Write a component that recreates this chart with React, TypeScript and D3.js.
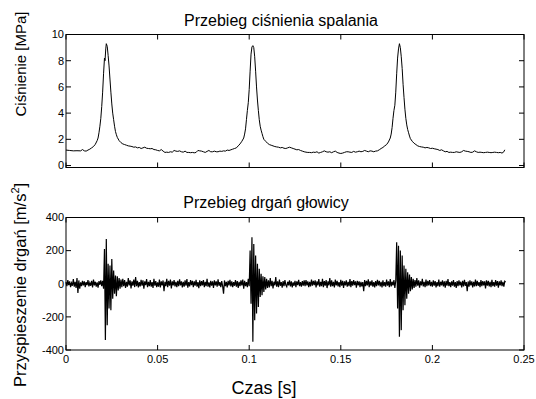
import React from "react";
import * as d3 from "d3";

const W = 536;
const H = 399;

const pressureTicks = [0, 2, 4, 6, 8, 10];
const vibTicks = [-400, -200, 0, 200, 400];
const timeTicks = [0, 0.05, 0.1, 0.15, 0.2, 0.25];
const timeTickLabels = ["0", "0.05", "0.1", "0.15", "0.2", "0.25"];

// [time s, pressure MPa]
const pressureData: [number, number][] = [
  [0,1.18],[0.002,1.15],[0.004,1.12],[0.006,1.13],[0.008,1.12],[0.009,1.22],[0.010,1.12],[0.011,1.1],[0.012,1.18],[0.013,1.25],[0.014,1.35],[0.015,1.45],[0.016,1.62],[0.017,1.9],[0.0175,2.1],[0.018,2.5],[0.0185,3.0],[0.019,3.6],[0.0195,4.5],[0.020,5.6],[0.0205,7.0],[0.021,8.2],[0.0213,8.0],[0.0217,8.9],[0.022,9.3],[0.0225,9.1],[0.023,8.4],[0.0235,7.6],[0.024,6.6],[0.0245,5.6],[0.025,4.7],[0.0255,4.0],[0.026,3.5],[0.0265,3.0],[0.027,2.6],[0.0275,2.35],[0.028,2.15],[0.029,1.9],[0.030,1.75],[0.031,1.65],[0.032,1.6],[0.033,1.55],[0.034,1.5],[0.035,1.48],[0.036,1.45],[0.037,1.4],[0.038,1.42],[0.039,1.35],[0.040,1.38],[0.041,1.3],[0.042,1.35],[0.043,1.4],[0.044,1.32],[0.045,1.3],[0.046,1.28],[0.047,1.3],[0.048,1.22],[0.049,1.2],[0.050,1.15],[0.051,1.12],[0.052,1.22],[0.053,1.1],[0.054,1.0],[0.055,1.02],[0.056,1.0],[0.057,1.05],[0.058,1.02],[0.059,1.15],[0.060,1.1],[0.061,1.08],[0.062,1.12],[0.063,1.05],[0.064,1.02],[0.065,1.1],[0.066,1.0],[0.067,1.0],[0.068,0.98],[0.069,1.0],[0.070,0.97],[0.071,1.0],[0.072,1.15],[0.073,1.12],[0.074,1.1],[0.075,1.05],[0.076,1.0],[0.077,1.08],[0.078,1.15],[0.079,1.05],[0.080,1.05],
  [0.081,1.1],[0.082,1.05],[0.083,1.05],[0.084,1.1],[0.085,1.08],[0.086,1.12],[0.087,1.1],[0.088,1.18],[0.089,1.15],[0.090,1.2],[0.091,1.25],[0.092,1.3],[0.093,1.35],[0.094,1.5],[0.095,1.65],[0.096,1.85],[0.097,2.1],[0.0975,2.4],[0.098,2.8],[0.0985,3.5],[0.099,4.2],[0.0995,4.8],[0.100,5.8],[0.1005,7.2],[0.101,8.5],[0.1015,9.05],[0.102,9.15],[0.1025,9.0],[0.103,8.3],[0.1035,7.2],[0.104,6.0],[0.1045,5.0],[0.105,4.2],[0.1055,3.5],[0.106,3.0],[0.1065,2.7],[0.107,2.45],[0.1075,2.2],[0.108,2.0],[0.109,1.85],[0.110,1.7],[0.111,1.6],[0.112,1.55],[0.113,1.5],[0.114,1.45],[0.115,1.42],[0.116,1.4],[0.117,1.35],[0.118,1.38],[0.119,1.32],[0.120,1.3],[0.121,1.35],[0.122,1.4],[0.123,1.35],[0.124,1.3],[0.125,1.25],[0.126,1.2],[0.127,1.22],[0.128,1.15],[0.129,1.1],[0.130,1.05],[0.131,1.02],[0.132,1.0],[0.133,1.0],[0.134,0.98],[0.135,1.02],[0.136,1.0],[0.137,1.05],[0.138,0.95],[0.139,1.0],[0.140,1.05],[0.141,1.12],[0.142,1.05],[0.143,1.02],[0.144,1.05],[0.145,0.98],[0.146,1.05],[0.147,1.1],[0.148,1.0],[0.149,0.95],[0.150,0.92],[0.151,0.95],[0.152,1.0],[0.153,1.05],[0.154,1.05],[0.155,1.02],[0.156,1.0],[0.157,1.08],[0.158,1.02],[0.159,1.05],[0.160,1.1],
  [0.161,1.05],[0.162,1.08],[0.163,1.15],[0.164,1.1],[0.165,1.05],[0.166,1.12],[0.167,1.1],[0.168,1.05],[0.169,1.1],[0.170,1.12],[0.171,1.2],[0.172,1.3],[0.173,1.38],[0.174,1.5],[0.175,1.6],[0.176,1.8],[0.177,2.1],[0.1775,2.4],[0.178,2.9],[0.1785,3.6],[0.179,4.2],[0.1795,4.6],[0.180,5.6],[0.1805,7.0],[0.181,8.2],[0.1815,8.9],[0.182,9.3],[0.1825,9.0],[0.183,8.3],[0.1835,7.4],[0.184,6.2],[0.1845,5.2],[0.185,4.3],[0.1855,3.6],[0.186,3.1],[0.1865,2.75],[0.187,2.5],[0.1875,2.25],[0.188,2.05],[0.189,1.85],[0.190,1.7],[0.191,1.6],[0.192,1.5],[0.193,1.45],[0.194,1.42],[0.195,1.4],[0.196,1.35],[0.197,1.38],[0.198,1.35],[0.199,1.3],[0.200,1.32],[0.201,1.28],[0.202,1.25],[0.203,1.22],[0.204,1.15],[0.205,1.2],[0.206,1.12],[0.207,1.05],[0.208,1.08],[0.209,1.0],[0.210,1.02],[0.211,1.0],[0.212,1.0],[0.213,1.05],[0.214,1.02],[0.215,1.0],[0.216,1.05],[0.217,1.15],[0.218,1.1],[0.219,1.08],[0.220,1.05],[0.221,1.0],[0.222,1.02],[0.223,1.12],[0.224,1.05],[0.225,1.0],[0.226,1.02],[0.227,1.0],[0.228,0.98],[0.229,1.0],[0.230,1.02],[0.231,1.0],[0.232,0.98],[0.233,1.0],[0.234,1.02],[0.235,1.0],[0.236,0.98],[0.237,1.0],[0.238,0.95],[0.239,1.05],[0.2395,1.2]
];

// vibration acceleration [m/s^2], one sample every 0.5 ms from t = 0
const vibStep = 0.0005;
const vibValues: number[] = [
  10,-15,22,-8,15,-20,5,-12,28,-18,12,-25,35,-55,20,-30,8,-14,18,-10,
  14,-20,10,-8,22,-16,6,-12,18,-22,25,-10,12,-18,8,-24,16,-6,20,-14,
  18,-30,210,-340,270,-250,120,-150,110,-160,150,-90,80,-60,50,-75,45,-40,35,-30,25,
  -20,30,-15,22,-25,12,-18,35,-10,20,-28,15,-12,25,-20,40,-15,18,-22,10,
  -16,24,-12,20,-30,15,-8,28,-20,12,-14,22,-18,10,-25,30,-12,16,-20,8,
  -18,25,-22,14,-10,20,-45,12,-15,30,-20,18,-12,25,-28,15,-10,22,-16,12,
  -20,18,-14,26,-10,15,-22,12,-18,20,-12,28,-24,10,-16,22,-8,18,-20,14,
  -12,24,-18,10,-26,20,-14,16,-10,22,-20,12,-15,30,-18,8,-22,18,-12,15,
  -25,20,-10,14,-18,26,-12,10,-20,16,-14,-60,20,-15,12,-22,18,-10,24,-16,
  14,-20,10,-12,22,-18,16,-25,12,-15,20,-10,25,-30,18,-14,10,-20,30,-15,
  200,-120,280,-350,240,-220,170,-180,120,-140,90,-80,60,-70,45,-50,40,-35,30,-25,
  20,-22,35,-15,18,-28,12,-10,40,-18,15,-20,25,-12,10,-24,16,-14,22,-8,
  -18,12,-10,20,-16,14,-22,8,-12,18,-20,15,-8,24,-14,10,-18,16,-12,20,
  -15,22,-10,14,-20,12,-16,25,-12,18,-8,20,-22,15,-10,28,-18,12,-14,30,
  -20,16,-12,22,-26,14,-10,35,-18,20,-15,12,-22,25,-10,18,-16,10,-20,24,
  -12,18,-25,14,-10,20,-18,12,-15,28,-20,16,-12,22,-8,15,-24,18,-10,14,
  -20,12,-16,10,-45,22,-14,18,-10,26,-20,15,-12,20,-18,10,-22,16,-14,24,
  -10,18,-16,12,-22,20,-14,10,-18,25,-12,15,-20,28,-16,12,-10,22,-25,18,
  250,-150,230,-320,200,-280,170,-160,110,-130,90,-90,70,-60,55,-45,40,-35,30,-25,
  22,-18,35,-12,20,-24,15,-10,30,-16,12,-20,25,-14,18,-10,22,-15,12,-18,
  20,-12,16,-22,10,-14,25,-18,12,-10,20,-16,14,-24,18,-12,28,-15,10,-20,
  15,-12,22,-18,10,-25,16,-14,20,-10,12,-22,18,-16,24,-12,10,-45,14,-18,
  20,-10,15,-22,12,-16,25,-14,18,-12,10,-20,22,-15,16,-10,14,-28,20,-12,
  18,-16,12,-20,24,-14,10,-18,22,-12,16,-24,14,-10,20,-15,12,-18,15,10
];

const FONT = "'Liberation Sans', Arial, Helvetica, sans-serif";

const X0 = 66;
const X1 = 524;
const TOP = { y0: 34.5, y1: 167.5 };
const BOT = { y0: 217.5, y1: 350 };
const TICK = 5;

export default function App() {
  const x = d3.scaleLinear().domain([0, 0.25]).range([X0, X1]);
  const yP = d3.scaleLinear().domain([-0.15, 10]).range([TOP.y1, TOP.y0]);
  const yV = d3.scaleLinear().domain([-400, 400]).range([BOT.y1, BOT.y0]);

  const pLine = d3
    .line<[number, number]>()
    .x((d) => x(d[0]))
    .y((d) => yP(d[1]))(pressureData) as string;

  const vLine = d3
    .line<number>()
    .x((_, i) => x(i * vibStep))
    .y((d) => yV(d))(vibValues) as string;

  const frame = (y0: number, y1: number) => (
    <rect x={X0} y={y0} width={X1 - X0} height={y1 - y0} fill="none" stroke="#000" strokeWidth={1} />
  );

  const xTicks = (y0: number, y1: number) =>
    timeTicks.map((t, i) => (
      <g key={"xt" + i}>
        <line x1={x(t)} x2={x(t)} y1={y1} y2={y1 - TICK} stroke="#000" />
        <line x1={x(t)} x2={x(t)} y1={y0} y2={y0 + TICK} stroke="#000" />
      </g>
    ));

  const yTicks = (vals: number[], sc: d3.ScaleLinear<number, number>, keyp: string) =>
    vals.map((v, i) => (
      <g key={keyp + i}>
        <line x1={X0} x2={X0 + TICK} y1={sc(v)} y2={sc(v)} stroke="#000" />
        <line x1={X1} x2={X1 - TICK} y1={sc(v)} y2={sc(v)} stroke="#000" />
        <text x={X0 - 2} y={sc(v)} dy="0.35em" textAnchor="end" fontSize={11} fontFamily={FONT}>
          {v}
        </text>
      </g>
    ));

  return (
    <svg
      width={W}
      height={H}
      style={{ position: "absolute", left: 0, top: 0, background: "#fff" }}
    >
      <rect x={0} y={0} width={W} height={H} fill="#fff" />
      {/* top panel */}
      <text x={281} y={26} textAnchor="middle" fontSize={16} fontFamily={FONT}>
        Przebieg ciśnienia spalania
      </text>
      <path d={pLine} fill="none" stroke="#000" strokeWidth={1} />
      {frame(TOP.y0, TOP.y1)}
      {xTicks(TOP.y0, TOP.y1)}
      {yTicks(pressureTicks, yP, "pt")}
      <text
        transform={`translate(26,64) rotate(-90)`}
        textAnchor="middle"
        fontSize={15}
        fontFamily={FONT}
      >
        Ciśnienie [MPa]
      </text>

      {/* bottom panel */}
      <text x={266} y={208} textAnchor="middle" fontSize={16} fontFamily={FONT}>
        Przebieg drgań głowicy
      </text>
      <path d={vLine} fill="none" stroke="#000" strokeWidth={1.2} />
      {frame(BOT.y0, BOT.y1)}
      {xTicks(BOT.y0, BOT.y1)}
      {yTicks(vibTicks, yV, "vt")}
      {timeTicks.map((t, i) => (
        <text key={"xl" + i} x={x(t)} y={BOT.y1 + 13} textAnchor="middle" fontSize={11} fontFamily={FONT}>
          {timeTickLabels[i]}
        </text>
      ))}
      <text
        transform={`translate(26,285) rotate(-90)`}
        textAnchor="middle"
        fontSize={16.5}
        fontFamily={FONT}
      >
        Przyspieszenie drgań [m/s
        <tspan dy={-7} fontSize={11}>2</tspan>
        <tspan dy={7}>]</tspan>
      </text>
      <text x={264} y={394} textAnchor="middle" fontSize={18} fontFamily={FONT}>
        Czas [s]
      </text>
    </svg>
  );
}
